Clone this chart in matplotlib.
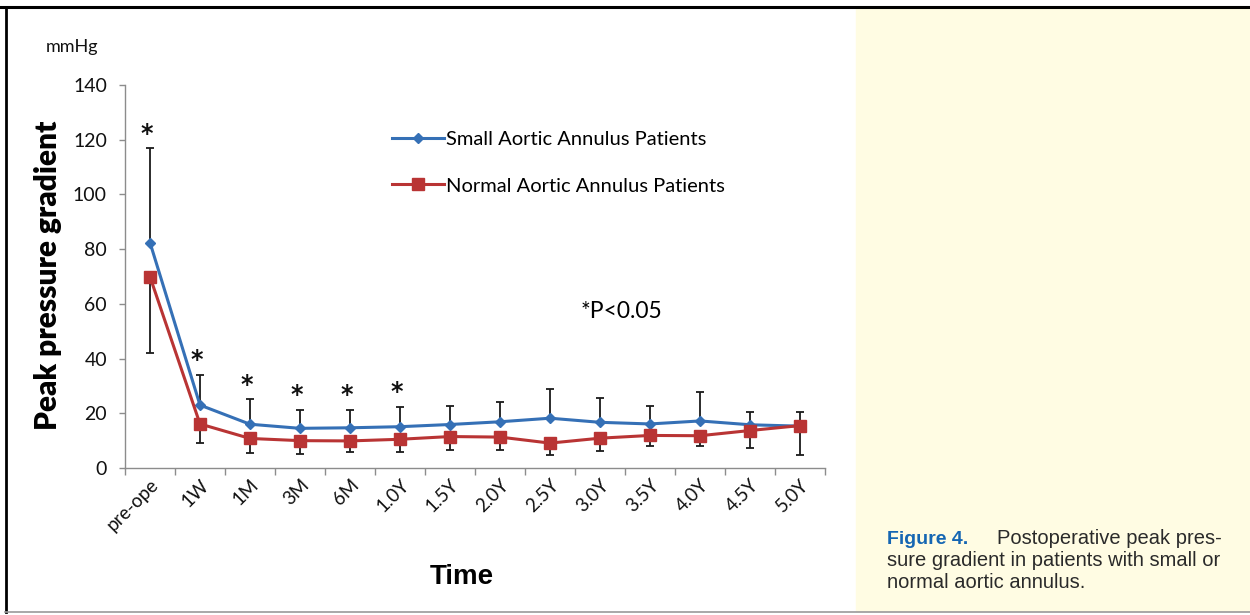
import matplotlib.pyplot as plt
from matplotlib.lines import Line2D
import numpy as np

# data
time_labels = ['pre-ope', '1W', '1M', '3M', '6M', '1.0Y', '1.5Y', '2.0Y',
               '2.5Y', '3.0Y', '3.5Y', '4.0Y', '4.5Y', '5.0Y']
small_mean = [82.4, 23.0, 16.0, 14.5, 14.7, 15.1, 15.9, 16.9, 18.2, 16.7, 16.1, 17.2, 15.8, 15.3]
small_sd = [34.4, 11.0, 9.1, 6.7, 6.5, 7.3, 6.9, 7.3, 10.7, 9.0, 6.7, 10.6, 4.5, 5.0]
normal_mean = [69.9, 16.1, 10.8, 10.0, 9.9, 10.5, 11.5, 11.3, 9.1, 10.9, 11.9, 11.8, 13.7, 15.5]
normal_sd = [28.0, 6.8, 5.2, 5.0, 3.9, 4.7, 4.9, 4.7, 4.4, 4.6, 4.0, 3.9, 6.5, 10.7]
signif = [True, True, True, True, True, True, False, False, False, False, False, False, False, False]

W, H = 1250, 615
fig = plt.figure(figsize=(W / 100, H / 100), dpi=100)

def fx(px):
    return px / W

def fy(py):
    return 1 - py / H

# frame and caption panel
fig.patches.append(plt.Rectangle((fx(856), fy(611)), fx(W - 856), fy(8) - fy(611),
                                 transform=fig.transFigure, color='#fffce3', zorder=0))
fig.lines.append(Line2D([0, 1], [fy(7), fy(7)], transform=fig.transFigure, color='black', lw=2.2))
fig.lines.append(Line2D([fx(5.5), fx(5.5)], [fy(7), fy(612)], transform=fig.transFigure, color='black', lw=2.0))
fig.lines.append(Line2D([fx(5), 1], [fy(612), fy(612)], transform=fig.transFigure, color='#999999', lw=1.2))

ax = fig.add_axes([fx(125), fy(468), fx(700), fy(85) - fy(468)])
x = np.arange(len(time_labels))
blue = '#3570b6'
red = '#b93434'

ax.errorbar(x, small_mean, yerr=[np.zeros(len(x)), small_sd], fmt='none',
            ecolor='#1a1a1a', elinewidth=1.3, capsize=3, capthick=1.3, zorder=2)
ax.errorbar(x, normal_mean, yerr=[normal_sd, np.zeros(len(x))], fmt='none',
            ecolor='#1a1a1a', elinewidth=1.3, capsize=3, capthick=1.3, zorder=2)
ax.plot(x, small_mean, color=blue, lw=2.2, marker='D', markersize=5.5, zorder=3)
ax.plot(x, normal_mean, color=red, lw=2.2, marker='s', markersize=9, zorder=4)

for i in range(len(x)):
    if signif[i]:
        ax.annotate('*', (x[i] - 0.06, small_mean[i] + small_sd[i]), xytext=(0, 2),
                    textcoords='offset points', ha='center', va='bottom',
                    fontsize=17, fontweight='bold', color='#111111')

ax.set_xlim(-0.5, 13.5)
ax.set_ylim(0, 140)
ax.set_yticks(range(0, 141, 20))
ax.set_xticks(x)
ax.set_xticks(np.arange(-0.5, 14, 1), minor=True)
ax.set_xticklabels(time_labels, rotation=45, ha='right', va='top', rotation_mode='anchor',
                   fontsize=13.5, family='Lato', color='#111111')
ax.tick_params(axis='x', which='major', length=0, pad=6)
ax.tick_params(axis='x', which='minor', length=5, color='#8c8c8c', width=1)
ax.tick_params(axis='y', length=4, color='#8c8c8c', width=1, labelsize=14, pad=9)
for lab in ax.get_yticklabels():
    lab.set_family('Lato')
    lab.set_color('#111111')
for side in ['top', 'right']:
    ax.spines[side].set_visible(False)
for side in ['left', 'bottom']:
    ax.spines[side].set_color('#8c8c8c')
    ax.spines[side].set_linewidth(1)

handles = [Line2D([], [], color=blue, lw=2.2, marker='D', markersize=5.5),
           Line2D([], [], color=red, lw=2.2, marker='s', markersize=9)]
fig.legend(handles, ['Small Aortic Annulus Patients', 'Normal Aortic Annulus Patients'],
           loc='upper left', bbox_to_anchor=(fx(374), fy(113)), frameon=False,
           handlelength=2.6, handletextpad=0.1, labelspacing=1.45,
           prop={'family': 'Lato', 'size': 14.5})

fig.text(fx(72), fy(47), 'mmHg', ha='center', va='center', fontsize=13, family='Lato', color='#111111')
fig.text(fx(48), fy(275), 'Peak pressure gradient', rotation=90, ha='center', va='center',
         fontsize=21.5, fontweight='heavy', family='Lato', color='black')
fig.text(fx(462), fy(577), 'Time', ha='center', va='center', fontsize=20, fontweight='bold',
         family=['Liberation Sans Narrow', 'Liberation Sans'], color='black')
fig.text(fx(621), fy(311), '*P<0.05', ha='center', va='center', fontsize=16.5, family='Lato', color='black')

# caption
fig.text(fx(887), fy(539), 'Figure 4.', ha='left', va='center', fontsize=14, fontweight='bold',
         family=['Liberation Sans Narrow', 'Liberation Sans'], color='#1566b3')
fig.text(fx(997), fy(539), 'Postoperative peak pres-', ha='left', va='center', fontsize=14.5,
         family='Liberation Sans', color='#2a2a2a')
fig.text(fx(887), fy(561), 'sure gradient in patients with small or', ha='left', va='center',
         fontsize=14.5, family='Liberation Sans', color='#2a2a2a')
fig.text(fx(887), fy(583), 'normal aortic annulus.', ha='left', va='center', fontsize=14.5,
         family='Liberation Sans', color='#2a2a2a')

fig.savefig('out.png', dpi=100)
